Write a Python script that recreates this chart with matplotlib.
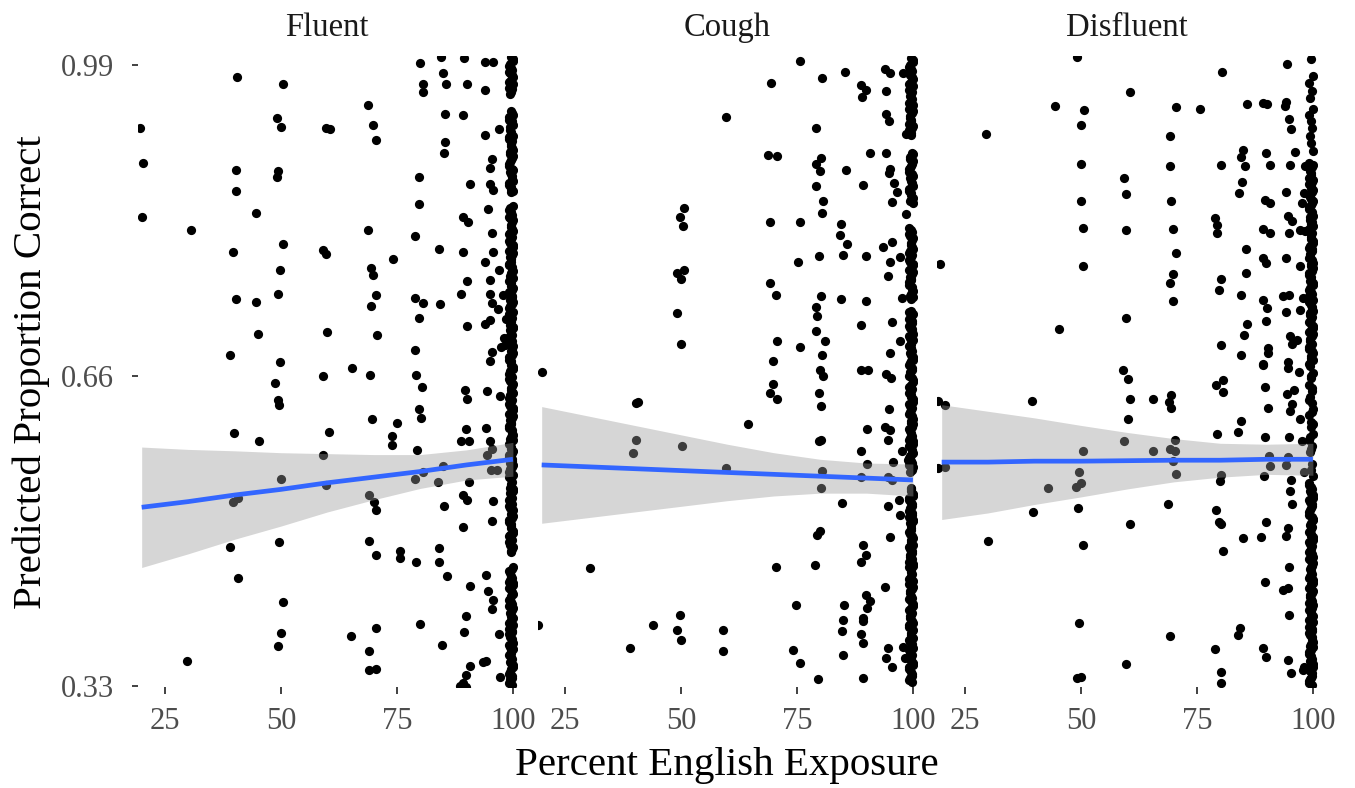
import matplotlib
matplotlib.use("Agg")
import matplotlib.pyplot as plt

plt.rcParams['font.family'] = ['Liberation Serif', 'DejaVu Serif']

panels = ["Fluent", "Cough", "Disfluent"]
x_ticks = [25, 50, 75, 100]
y_ticks = [0.33, 0.66, 0.99]
y_tick_labels = ["0.33", "0.66", "0.99"]
x_label = "Percent English Exposure"
y_label = "Predicted Proportion Correct"

# ---------------- scattered points (percent exposure, predicted proportion) -------------
fluent_pts = [
    (80, 0.992), (84.6, 0.999), (89.4, 0.997), (94, 0.993), (95.7, 0.993),
    (84.9, 0.981), (80.6, 0.970), (80.6, 0.961), (85.6, 0.970), (90.2, 0.970), (94, 0.963),
    (40.6, 0.977), (50.5, 0.970), (68.8, 0.947), (49.1, 0.934), (50, 0.924), (59.8, 0.923), (60.5, 0.922),
    (69.9, 0.926), (70.6, 0.910), (19.6, 0.923), (85.3, 0.938), (89.2, 0.937), (94, 0.916), (97.1, 0.922),
    (85.3, 0.908), (85.2, 0.896), (20.3, 0.886), (40.4, 0.878), (40.4, 0.856), (49.4, 0.877), (49.1, 0.871),
    (79.8, 0.871), (90.7, 0.864), (95.6, 0.890), (95, 0.881), (95, 0.864), (95.8, 0.857),
    (20, 0.828), (30.7, 0.815), (44.6, 0.833), (79.8, 0.842), (94.7, 0.837), (89.3, 0.829), (90.4, 0.823),
    (68.8, 0.815), (78.9, 0.808), (95.4, 0.812), (50.5, 0.800), (39.6, 0.791), (59, 0.793), (59.7, 0.789),
    (84.1, 0.794), (89.2, 0.791), (95.8, 0.791), (94, 0.781), (74.2, 0.784), (97.1, 0.772), (49.9, 0.772),
    (69.5, 0.774), (69.9, 0.767), (90.2, 0.760), (95, 0.761), (49.4, 0.747), (40.4, 0.741), (44.6, 0.738),
    (70.4, 0.746), (69.5, 0.734), (79, 0.742), (80.7, 0.737), (84.3, 0.736), (88.8, 0.747), (95, 0.747),
    (95.4, 0.737), (97.9, 0.746), (96.8, 0.731), (79.8, 0.721), (90.2, 0.713), (94, 0.715), (95, 0.719),
    (45.1, 0.704), (60, 0.706), (70.7, 0.703), (39, 0.682), (49.9, 0.674), (79, 0.687), (65.4, 0.668),
    (95.5, 0.685), (95, 0.675), (97.5, 0.690), (98.5, 0.720), (98.0, 0.700), (98.3, 0.692),
    (59.1, 0.659), (69.2, 0.661), (79.2, 0.661), (80.5, 0.648), (48.7, 0.652), (49.3, 0.634), (49.6, 0.629),
    (89.7, 0.645), (90.2, 0.635), (94.5, 0.644), (97.2, 0.638), (79.8, 0.624), (80.3, 0.615), (69.7, 0.614),
    (75.1, 0.610), (74, 0.596), (74, 0.586), (39.9, 0.599), (45.3, 0.590), (60.4, 0.600), (89.9, 0.603),
    (94.2, 0.604), (88.9, 0.590), (90.6, 0.590), (95, 0.590), (95.4, 0.582), (79.4, 0.581), (59, 0.576),
    (94.5, 0.576), (95.2, 0.560), (96.5, 0.560), (85, 0.564), (80.7, 0.558), (78.9, 0.550), (83.9, 0.547),
    (50.1, 0.550), (59.8, 0.544), (90.6, 0.547), (39.7, 0.526), (40.8, 0.530), (69, 0.533), (70.1, 0.526),
    (70.5, 0.517), (89.2, 0.533), (90.2, 0.528), (95.8, 0.527), (85.2, 0.521), (95.4, 0.505), (89.2, 0.499),
    (39, 0.478), (49.6, 0.483), (69, 0.484), (70.6, 0.469), (75.6, 0.474), (75.6, 0.466), (79.2, 0.462),
    (84.1, 0.477), (84.1, 0.462), (85.8, 0.447), (40.8, 0.445), (94.3, 0.448), (90.8, 0.436), (94.7, 0.431),
    (95.8, 0.421), (95.4, 0.412), (50.5, 0.419), (89.9, 0.404), (70.6, 0.392), (80, 0.396), (50.1, 0.386),
    (49.4, 0.373), (65.1, 0.383), (89.5, 0.387), (97.1, 0.385), (84.8, 0.374), (69, 0.367), (29.7, 0.357),
    (69, 0.347), (70.6, 0.348), (90.7, 0.351), (90, 0.342), (93.6, 0.356), (94.3, 0.357), (89.3, 0.333),
    (97.2, 0.340), (88.5, 0.330), (89.8, 0.329),
]

cough_pts = [
    (75.6, 0.994), (69.5, 0.971), (80.5, 0.976), (85.3, 0.983), (94, 0.986), (95, 0.981), (88.9, 0.969), (90, 0.963),
    (89.1, 0.956), (94.2, 0.962), (97.9, 0.981), (59.8, 0.935), (79.1, 0.923), (94.2, 0.938), (94.9, 0.930),
    (98.5, 0.917), (68.8, 0.894), (70.8, 0.893), (79.1, 0.885), (80.3, 0.891), (80, 0.877), (85.6, 0.878),
    (90.7, 0.897), (94.3, 0.897), (95, 0.880), (94.9, 0.875), (89.3, 0.863), (79.2, 0.861), (96, 0.865),
    (96.5, 0.855), (80.7, 0.846), (80.5, 0.833), (95.4, 0.844), (50.6, 0.838), (49.8, 0.829), (50.5, 0.819),
    (69.2, 0.823), (75.6, 0.823), (84.6, 0.821), (84.3, 0.809), (85.8, 0.800), (98.6, 0.832), (93.6, 0.797),
    (95.4, 0.802), (95, 0.781), (94.7, 0.766), (75.3, 0.781), (79.8, 0.787), (85, 0.788), (89.9, 0.787),
    (97.2, 0.786), (49.1, 0.769), (50.6, 0.772), (50.1, 0.763), (69.3, 0.758), (70.6, 0.746), (80.1, 0.745),
    (79.2, 0.733), (79.4, 0.723), (84.4, 0.741), (89.9, 0.739), (97.6, 0.742), (49.1, 0.726), (88.9, 0.714),
    (95.6, 0.717), (79.1, 0.707), (81, 0.697), (50.1, 0.694), (70.8, 0.697), (75.6, 0.690), (80.5, 0.682),
    (95, 0.684), (97.3, 0.697), (69.8, 0.675), (20, 0.664), (80, 0.666), (88.9, 0.666), (90.4, 0.666), (94.3, 0.662),
    (80.7, 0.659), (95.2, 0.657), (69.9, 0.651), (69.2, 0.641), (70.8, 0.635), (79.8, 0.641), (80.3, 0.628),
    (40.4, 0.631), (40.8, 0.632), (94.9, 0.624), (64.5, 0.608), (90.2, 0.603), (93.9, 0.605), (95, 0.602), (94.7, 0.591),
    (79.8, 0.590), (80.2, 0.591), (40.3, 0.592), (39.6, 0.578), (50.3, 0.585), (88.9, 0.580), (97.6, 0.580),
    (90.2, 0.566), (95.8, 0.568), (99, 0.570), (59.7, 0.562), (80.5, 0.559), (88.9, 0.552), (94.7, 0.552),
    (95.4, 0.549), (80.3, 0.540), (84.8, 0.525), (97.1, 0.528), (94.7, 0.521), (97.3, 0.512), (80, 0.495),
    (79.4, 0.491), (95, 0.488), (89.2, 0.480), (90, 0.469), (88.9, 0.462), (30.5, 0.455), (70.5, 0.457),
    (78.9, 0.459), (93.9, 0.435), (90, 0.427), (90.7, 0.420), (90.2, 0.413), (74.9, 0.416), (85.1, 0.416),
    (49.9, 0.406), (89.3, 0.402), (89.2, 0.399), (84.9, 0.400), (84.8, 0.388), (44, 0.395), (49.2, 0.390),
    (50.1, 0.379), (59, 0.390), (88.9, 0.385), (89.2, 0.376), (39, 0.370), (59, 0.367), (74.1, 0.368),
    (75.6, 0.355), (85, 0.363), (94.7, 0.370), (94.3, 0.360), (95.4, 0.350), (97.8, 0.371), (98.3, 0.360),
    (79.6, 0.338), (89.2, 0.339), (19.3, 0.395),
]

disfluent_pts = [
    (49.1, 0.999), (80.5, 0.983), (94.5, 0.991), (60.6, 0.961), (44.4, 0.946), (50.6, 0.942), (70.6, 0.945),
    (75.6, 0.943), (85.7, 0.949), (89.3, 0.950), (90.2, 0.949), (94.2, 0.951), (94, 0.946), (50.1, 0.926),
    (29.5, 0.917), (69.3, 0.915), (94.9, 0.933), (95.2, 0.922), (96.1, 0.898), (85, 0.900), (84.4, 0.892),
    (85.3, 0.883), (89.9, 0.896), (90.7, 0.884), (50.1, 0.885), (69.3, 0.883), (80.3, 0.884), (95, 0.884),
    (98.3, 0.883), (59.3, 0.870), (59.7, 0.853), (84.8, 0.866), (84.1, 0.854), (50.1, 0.846), (69.5, 0.846),
    (89.7, 0.847), (90.7, 0.843), (94.2, 0.855), (98, 0.854), (97.6, 0.843), (94.7, 0.830), (95.4, 0.824),
    (94.9, 0.811), (78.9, 0.827), (79.4, 0.820), (79.4, 0.811), (89.3, 0.816), (90.7, 0.811), (97.2, 0.815),
    (98.2, 0.814), (50.4, 0.817), (59.7, 0.815), (69.9, 0.816), (85.6, 0.795), (70.5, 0.790), (89.3, 0.785),
    (89.9, 0.780), (94.2, 0.785), (97.2, 0.776), (19.6, 0.778), (50.4, 0.776), (69.8, 0.768), (69.3, 0.758),
    (80.3, 0.763), (79.7, 0.751), (85.6, 0.769), (84.4, 0.746), (69.8, 0.739), (89.3, 0.740), (90.2, 0.732),
    (93.6, 0.745), (94.9, 0.746), (97.8, 0.742), (97.2, 0.730), (94.3, 0.727), (59.7, 0.721), (90, 0.718),
    (85.7, 0.715), (85.1, 0.703), (45.3, 0.709), (95, 0.702), (96.5, 0.698), (95.6, 0.694), (80.3, 0.692),
    (84.4, 0.682), (90.4, 0.689), (90.4, 0.684), (89.2, 0.672), (94.7, 0.674), (94.7, 0.668),
    (59, 0.666), (60.2, 0.656), (89.3, 0.671), (97.1, 0.664), (79.1, 0.650), (80.7, 0.655), (80.7, 0.643),
    (89.7, 0.648), (94.5, 0.640), (95.9, 0.645), (60.6, 0.635), (65.5, 0.635), (69.5, 0.639), (69, 0.632),
    (69.5, 0.625), (39.4, 0.633), (19.3, 0.633), (20.7, 0.629), (90.4, 0.626), (95.4, 0.630), (95, 0.622),
    (97.3, 0.614), (60.2, 0.614), (84.6, 0.612), (83.9, 0.600), (79.4, 0.598), (70.3, 0.592), (89.7, 0.595),
    (94.9, 0.595), (59.3, 0.590), (97.6, 0.590), (50.4, 0.580), (65.5, 0.580), (69.3, 0.582), (70.3, 0.580),
    (69.9, 0.569), (90.6, 0.575), (90.7, 0.564), (94.7, 0.573), (94.2, 0.565), (98, 0.558), (20.7, 0.563),
    (19.3, 0.562), (49.6, 0.557), (70.6, 0.555), (80.3, 0.554), (89.4, 0.553), (50.1, 0.546), (48.9, 0.542),
    (43, 0.540), (80, 0.548), (95.2, 0.549), (95, 0.537), (95.6, 0.524), (49.4, 0.519), (39.7, 0.515),
    (68.8, 0.523), (79.2, 0.517), (79.8, 0.504), (80.1, 0.502), (90, 0.504), (60.6, 0.502), (94.7, 0.498),
    (94.2, 0.490), (88.9, 0.488), (84.9, 0.487), (30, 0.484), (50.4, 0.480), (80.7, 0.473), (94.9, 0.457),
    (89.7, 0.441), (93.6, 0.432), (94.7, 0.434), (94.9, 0.405), (49.6, 0.397), (69.3, 0.383), (84.3, 0.392),
    (83.9, 0.384), (78.9, 0.369), (89.3, 0.370), (89.9, 0.361), (94.7, 0.358), (59.7, 0.353), (80.3, 0.345),
    (95.2, 0.344), (97.8, 0.347), (98, 0.350), (50.1, 0.340), (49.1, 0.339), (80.2, 0.333),
]

# ---------------- the dense columns of points at 100% exposure ----------------
fluent_col_y = [
    0.998, 0.994, 0.989, 0.985, 0.981, 0.977, 0.972, 0.968, 0.964, 0.959,
    0.941, 0.937, 0.932, 0.928, 0.924, 0.919, 0.915, 0.911, 0.906, 0.902, 0.898, 0.893, 0.889, 0.885,
    0.880, 0.876, 0.872, 0.867, 0.863, 0.858, 0.855,
    0.840, 0.836, 0.831, 0.827, 0.823, 0.818, 0.814, 0.810, 0.805, 0.801, 0.797, 0.792, 0.788, 0.784,
    0.779, 0.775, 0.771, 0.766, 0.762, 0.758, 0.753, 0.749, 0.745, 0.740, 0.736, 0.732, 0.727, 0.723,
    0.719, 0.714, 0.710, 0.706, 0.701, 0.697, 0.693, 0.688, 0.684, 0.680, 0.675, 0.671, 0.667, 0.662,
    0.658, 0.654, 0.649, 0.645, 0.641, 0.636, 0.632, 0.628, 0.623, 0.619, 0.615, 0.610, 0.606, 0.602,
    0.597, 0.593, 0.589, 0.584, 0.580, 0.576, 0.571, 0.567, 0.563, 0.558, 0.554, 0.550, 0.545, 0.541,
    0.537, 0.532, 0.528, 0.524, 0.519, 0.515, 0.511, 0.506, 0.502, 0.498, 0.493, 0.489, 0.485, 0.480,
    0.476, 0.472,
    0.456, 0.452, 0.447, 0.443, 0.439, 0.434, 0.430, 0.426, 0.421, 0.417, 0.413, 0.408, 0.404, 0.400,
    0.395, 0.391, 0.387, 0.382, 0.378, 0.374, 0.369, 0.365, 0.361, 0.356, 0.352, 0.348, 0.343, 0.339,
    0.335, 0.331,
]
fluent_col2_y = [
    0.996, 0.991, 0.987, 0.983, 0.979, 0.974, 0.970, 0.966, 0.961,
    0.939, 0.935, 0.930, 0.926, 0.921, 0.917, 0.913, 0.909, 0.904, 0.900, 0.895, 0.891, 0.887, 0.883,
    0.878, 0.874, 0.869, 0.865, 0.860, 0.856,
    0.838, 0.834, 0.829, 0.825, 0.820, 0.816, 0.812, 0.807, 0.803, 0.799, 0.795, 0.790, 0.786, 0.781,
    0.777, 0.773, 0.769, 0.764, 0.760, 0.755, 0.751, 0.747, 0.743, 0.738, 0.734, 0.729, 0.725, 0.721,
    0.717, 0.712, 0.708, 0.703, 0.699, 0.695, 0.691, 0.686, 0.682, 0.677, 0.673, 0.669, 0.665, 0.660,
    0.656, 0.651, 0.647, 0.643, 0.639, 0.634, 0.630, 0.625, 0.621, 0.617, 0.613, 0.608, 0.604, 0.599,
    0.595, 0.591, 0.587, 0.582, 0.578, 0.573, 0.569, 0.565, 0.561, 0.556, 0.552, 0.547, 0.543, 0.539,
    0.535, 0.530, 0.526, 0.521, 0.517, 0.513, 0.509, 0.504, 0.500, 0.495, 0.491, 0.487, 0.483, 0.478,
    0.474,
    0.454, 0.450, 0.445, 0.441, 0.437, 0.432, 0.428, 0.423, 0.419, 0.415, 0.411, 0.406, 0.402, 0.397,
    0.393, 0.389, 0.385, 0.380, 0.376, 0.371, 0.367, 0.363, 0.359, 0.354, 0.350, 0.345, 0.341, 0.337,
    0.333,
]
cough_col_y = [
    0.997, 0.993, 0.988, 0.984, 0.979, 0.975, 0.970, 0.966, 0.961, 0.957, 0.952, 0.948, 0.943, 0.939,
    0.934, 0.930, 0.925, 0.921, 0.916,
    0.897, 0.892, 0.888, 0.883, 0.879, 0.874, 0.870, 0.865, 0.861, 0.856, 0.852, 0.847, 0.843,
    0.817, 0.813, 0.808, 0.804, 0.799, 0.795, 0.790, 0.786, 0.781, 0.777, 0.772, 0.768, 0.763, 0.759,
    0.754, 0.750, 0.745, 0.741,
    0.729, 0.725, 0.720, 0.716, 0.711, 0.707, 0.702, 0.698, 0.693, 0.689, 0.684, 0.680, 0.675, 0.671,
    0.666, 0.662, 0.657, 0.653, 0.648, 0.644, 0.639, 0.635, 0.630, 0.626, 0.621, 0.617, 0.612, 0.608,
    0.603, 0.599, 0.594, 0.590, 0.585, 0.581, 0.576, 0.572, 0.567, 0.563, 0.558,
    0.541, 0.537, 0.532, 0.528, 0.523, 0.519, 0.514, 0.510, 0.505, 0.501, 0.496, 0.492, 0.487, 0.483,
    0.478, 0.474, 0.469, 0.465, 0.460, 0.456, 0.451, 0.447, 0.442, 0.438, 0.433, 0.429, 0.424, 0.420,
    0.415, 0.411, 0.406, 0.402, 0.397, 0.393, 0.388, 0.384, 0.379, 0.375, 0.370, 0.366, 0.361, 0.357,
    0.352, 0.348, 0.343, 0.339, 0.334,
]
cough_col2_y = [
    0.995, 0.990, 0.986, 0.981, 0.977, 0.972, 0.968, 0.963, 0.959, 0.954, 0.950, 0.945, 0.941, 0.936,
    0.932, 0.927, 0.923, 0.918,
    0.895, 0.890, 0.885, 0.881, 0.876, 0.872, 0.867, 0.863, 0.858, 0.854, 0.849, 0.845,
    0.815, 0.810, 0.806, 0.801, 0.797, 0.792, 0.788, 0.783, 0.779, 0.774, 0.770, 0.765, 0.761, 0.756,
    0.752, 0.747, 0.743,
    0.727, 0.722, 0.718, 0.713, 0.709, 0.704, 0.700, 0.695, 0.691, 0.686, 0.682, 0.677, 0.673, 0.668,
    0.664, 0.659, 0.655, 0.650, 0.646, 0.641, 0.637, 0.632, 0.628, 0.623, 0.619, 0.614, 0.610, 0.605,
    0.601, 0.596, 0.592, 0.587, 0.583, 0.578, 0.574, 0.569, 0.565, 0.560,
    0.539, 0.534, 0.530, 0.525, 0.521, 0.516, 0.512, 0.507, 0.503, 0.498, 0.494, 0.489, 0.485, 0.480,
    0.476, 0.471, 0.467, 0.462, 0.458, 0.453, 0.449, 0.444, 0.440, 0.435, 0.431, 0.426, 0.422, 0.417,
    0.413, 0.408, 0.404, 0.399, 0.395, 0.390, 0.386, 0.381, 0.377, 0.372, 0.368, 0.363, 0.359, 0.354,
    0.350, 0.345, 0.341, 0.336,
]
disfluent_col_y = [
    0.996, 0.978, 0.971, 0.962, 0.955, 0.943, 0.937, 0.931, 0.923, 0.915, 0.907, 0.899,
    0.886, 0.882, 0.877, 0.873, 0.868, 0.864, 0.859, 0.855, 0.850, 0.846, 0.841, 0.837, 0.832, 0.828,
    0.823, 0.819, 0.814, 0.810, 0.805, 0.801, 0.796, 0.792, 0.787, 0.783, 0.778, 0.774, 0.769, 0.765,
    0.760, 0.756, 0.751, 0.747, 0.742, 0.738, 0.733, 0.729, 0.724, 0.720, 0.715, 0.711, 0.706, 0.702,
    0.697, 0.693, 0.688, 0.684, 0.679, 0.675, 0.670,
    0.663, 0.657, 0.650, 0.644, 0.637, 0.631, 0.624, 0.618, 0.611, 0.605, 0.598, 0.592, 0.585, 0.579,
    0.566, 0.560, 0.553,
    0.546, 0.542, 0.537, 0.533, 0.528, 0.524, 0.519, 0.515, 0.510, 0.506, 0.501, 0.497, 0.492, 0.488,
    0.483, 0.479, 0.474, 0.470, 0.465, 0.461, 0.456, 0.452, 0.447, 0.443, 0.438, 0.434, 0.429, 0.425,
    0.420, 0.416, 0.411, 0.407, 0.402, 0.398, 0.393, 0.389, 0.384, 0.380, 0.375, 0.371, 0.366, 0.362,
    0.357, 0.353, 0.348, 0.344, 0.339, 0.335, 0.331,
]
disfluent_col2_y = [
    0.884, 0.879, 0.875, 0.870, 0.866, 0.861, 0.857, 0.852, 0.848, 0.843, 0.839, 0.834, 0.830, 0.825,
    0.821, 0.816, 0.812, 0.807, 0.803, 0.798, 0.794, 0.789, 0.785, 0.780, 0.776, 0.771, 0.767, 0.762,
    0.758, 0.753, 0.749, 0.744, 0.740, 0.735, 0.731, 0.726, 0.722, 0.717, 0.713, 0.708, 0.704, 0.699,
    0.695, 0.690, 0.686, 0.681, 0.677, 0.672,
    0.660, 0.647, 0.634, 0.621, 0.608, 0.595, 0.582,
    0.544, 0.539, 0.535, 0.530, 0.526, 0.521, 0.517, 0.512, 0.508, 0.503, 0.499, 0.494, 0.490, 0.485,
    0.481, 0.476, 0.472, 0.467, 0.463, 0.458, 0.454, 0.449, 0.445, 0.440, 0.436, 0.431, 0.427, 0.422,
    0.418, 0.413, 0.409, 0.404, 0.400, 0.395, 0.391, 0.386, 0.382, 0.377, 0.373, 0.368, 0.364, 0.359,
    0.355, 0.350, 0.346, 0.341, 0.337, 0.333,
]
# jittered exposure values of the points in the columns
col_x = [
    99.5, 100.0, 99.2, 99.8, 99.4, 100.1, 99.1, 99.7, 99.9, 99.3,
    99.6, 100.1, 99.2, 99.9, 99.4, 99.7, 100.0, 99.1, 99.5, 99.8,
    99.3, 100.1, 99.6, 99.1, 99.9, 99.4, 99.8, 100.0, 99.2, 99.7,
    99.5, 100.1, 99.1, 99.8, 99.3, 99.9, 99.6, 100.0, 99.2, 99.7,
    99.4, 100.1, 99.2, 99.8, 99.5, 99.1, 99.9, 100.0, 99.3, 99.7,
    99.6, 100.1, 99.1, 99.8, 99.4, 99.9, 99.2, 100.0, 99.5, 99.7,
    99.3, 100.1, 99.6, 99.1, 99.9, 99.4, 99.8, 100.0, 99.2, 99.7,
    99.5, 100.1, 99.1, 99.8, 99.3, 99.9, 99.6, 100.0, 99.2, 99.7,
    99.4, 100.1, 99.2, 99.8, 99.5, 99.1, 99.9, 100.0, 99.3, 99.7,
    99.6, 100.1, 99.1, 99.8, 99.4, 99.9, 99.2, 100.0, 99.5, 99.7,
    99.3, 100.1, 99.6, 99.1, 99.9, 99.4, 99.8, 100.0, 99.2, 99.7,
    99.5, 100.1, 99.1, 99.8, 99.3, 99.9, 99.6, 100.0, 99.2, 99.7,
    99.4, 100.1, 99.2, 99.8, 99.5, 99.1, 99.9, 100.0, 99.3, 99.7,
    99.6, 100.1, 99.1, 99.8, 99.4, 99.9, 99.2, 100.0, 99.5, 99.7,
    99.3, 100.1, 99.6, 99.1, 99.9, 99.4, 99.8, 100.0, 99.2, 99.7,
    99.5, 100.1, 99.1, 99.8, 99.3, 99.9, 99.6, 100.0, 99.2, 99.7,
]
col2_x = [
    100.0, 99.3, 99.7, 99.1, 99.9, 99.5, 100.1, 99.2, 99.6, 99.8,
    99.2, 99.8, 100.1, 99.4, 99.6, 99.1, 99.9, 99.5, 100.0, 99.3,
    99.9, 99.4, 99.2, 100.1, 99.6, 99.8, 99.1, 99.5, 100.0, 99.3,
    99.7, 99.2, 100.1, 99.5, 99.9, 99.3, 99.8, 99.1, 100.0, 99.6,
    100.0, 99.3, 99.7, 99.1, 99.9, 99.5, 100.1, 99.2, 99.6, 99.8,
    99.2, 99.8, 100.1, 99.4, 99.6, 99.1, 99.9, 99.5, 100.0, 99.3,
    99.9, 99.4, 99.2, 100.1, 99.6, 99.8, 99.1, 99.5, 100.0, 99.3,
    99.7, 99.2, 100.1, 99.5, 99.9, 99.3, 99.8, 99.1, 100.0, 99.6,
    100.0, 99.3, 99.7, 99.1, 99.9, 99.5, 100.1, 99.2, 99.6, 99.8,
    99.2, 99.8, 100.1, 99.4, 99.6, 99.1, 99.9, 99.5, 100.0, 99.3,
    99.9, 99.4, 99.2, 100.1, 99.6, 99.8, 99.1, 99.5, 100.0, 99.3,
    99.7, 99.2, 100.1, 99.5, 99.9, 99.3, 99.8, 99.1, 100.0, 99.6,
    100.0, 99.3, 99.7, 99.1, 99.9, 99.5, 100.1, 99.2, 99.6, 99.8,
    99.2, 99.8, 100.1, 99.4, 99.6, 99.1, 99.9, 99.5, 100.0, 99.3,
    99.9, 99.4, 99.2, 100.1, 99.6, 99.8, 99.1, 99.5, 100.0, 99.3,
    99.7, 99.2, 100.1, 99.5, 99.9, 99.3, 99.8, 99.1, 100.0, 99.6,
]

# ---------------- linear fits with confidence bands ----------------
fit_x = [20, 30, 40, 50, 60, 70, 80, 90, 100]
fluent_fit = [0.520, 0.526, 0.533, 0.539, 0.546, 0.552, 0.558, 0.565, 0.571]
fluent_lo = [0.456, 0.4705, 0.486, 0.500, 0.515, 0.528, 0.540, 0.549, 0.553]
fluent_hi = [0.584, 0.5815, 0.580, 0.578, 0.577, 0.576, 0.576, 0.581, 0.589]
cough_fit = [0.565, 0.563, 0.561, 0.559, 0.557, 0.555, 0.553, 0.551, 0.549]
cough_lo = [0.503, 0.509, 0.515, 0.521, 0.527, 0.532, 0.535, 0.535, 0.532]
cough_hi = [0.627, 0.617, 0.607, 0.597, 0.587, 0.578, 0.571, 0.567, 0.566]
disfluent_fit = [0.568, 0.568, 0.569, 0.569, 0.5695, 0.570, 0.570, 0.571, 0.571]
disfluent_lo = [0.507, 0.514, 0.523, 0.531, 0.5395, 0.547, 0.552, 0.555, 0.554]
disfluent_hi = [0.629, 0.622, 0.615, 0.607, 0.5995, 0.593, 0.588, 0.587, 0.588]

points = [fluent_pts, cough_pts, disfluent_pts]
columns = [fluent_col_y, cough_col_y, disfluent_col_y]
columns2 = [fluent_col2_y, cough_col2_y, disfluent_col2_y]
fits = [(fluent_fit, fluent_lo, fluent_hi), (cough_fit, cough_lo, cough_hi),
        (disfluent_fit, disfluent_lo, disfluent_hi)]

W, H = 1355, 788
fig = plt.figure(figsize=(W / 100, H / 100), dpi=100)
fig.patch.set_facecolor("white")

x_lim = (19.1, 100.8)
y_lim = (0.329, 1.0)
ax_w = 379.1 / W
ax_h = 631.4 / H
ax_b = (H - 687) / H
lefts = [137.5 / W, 537.5 / W, 937.5 / W]

tick_col = "#333333"
lab_col = "#4D4D4D"

for i, name in enumerate(panels):
    ax = fig.add_axes([lefts[i], ax_b, ax_w, ax_h])
    ax.set_facecolor("white")
    for s in ax.spines.values():
        s.set_visible(False)
    pts = points[i]
    c1 = list(zip(col_x, columns[i]))
    c2 = list(zip(col2_x, columns2[i]))
    px = [p[0] for p in pts] + [p[0] for p in c1] + [p[0] for p in c2]
    py = [p[1] for p in pts] + [p[1] for p in c1] + [p[1] for p in c2]
    ax.scatter(px, py, s=44, c="black", linewidths=0, zorder=2)
    fy, lo, hi = fits[i]
    ax.fill_between(fit_x, lo, hi, color="#999999", alpha=0.4, linewidth=0, zorder=3)
    ax.plot(fit_x, fy, color="#3366FF", linewidth=3.4, zorder=4, solid_capstyle="butt")
    ax.set_xlim(*x_lim)
    ax.set_ylim(*y_lim)
    ax.set_xticks(x_ticks)
    ax.set_xticklabels([str(t) for t in x_ticks])
    ax.tick_params(axis="x", direction="out", length=4.7, width=1.3, color=tick_col,
                   labelsize=22, labelcolor=lab_col, pad=9.5)
    if i == 0:
        ax.set_yticks(y_ticks)
        ax.set_yticklabels(y_tick_labels)
        ax.tick_params(axis="y", direction="out", length=4.0, width=1.3, color=tick_col,
                       labelsize=22, labelcolor=lab_col, pad=13)
    else:
        ax.set_yticks([])
    cx = lefts[i] + ax_w / 2
    fig.text(cx, 1 - 36 / H, name, ha="center", va="baseline", fontsize=23.5, color="#1A1A1A")

fig.text(727 / W, 1 - 766 / H, x_label, ha="center", va="center", fontsize=29.5, color="black")
fig.text(31 / W, 1 - 372 / H, y_label, ha="center", va="center", rotation=90,
         fontsize=29.5, color="black")

fig.savefig("out.png", dpi=100, facecolor="white")
